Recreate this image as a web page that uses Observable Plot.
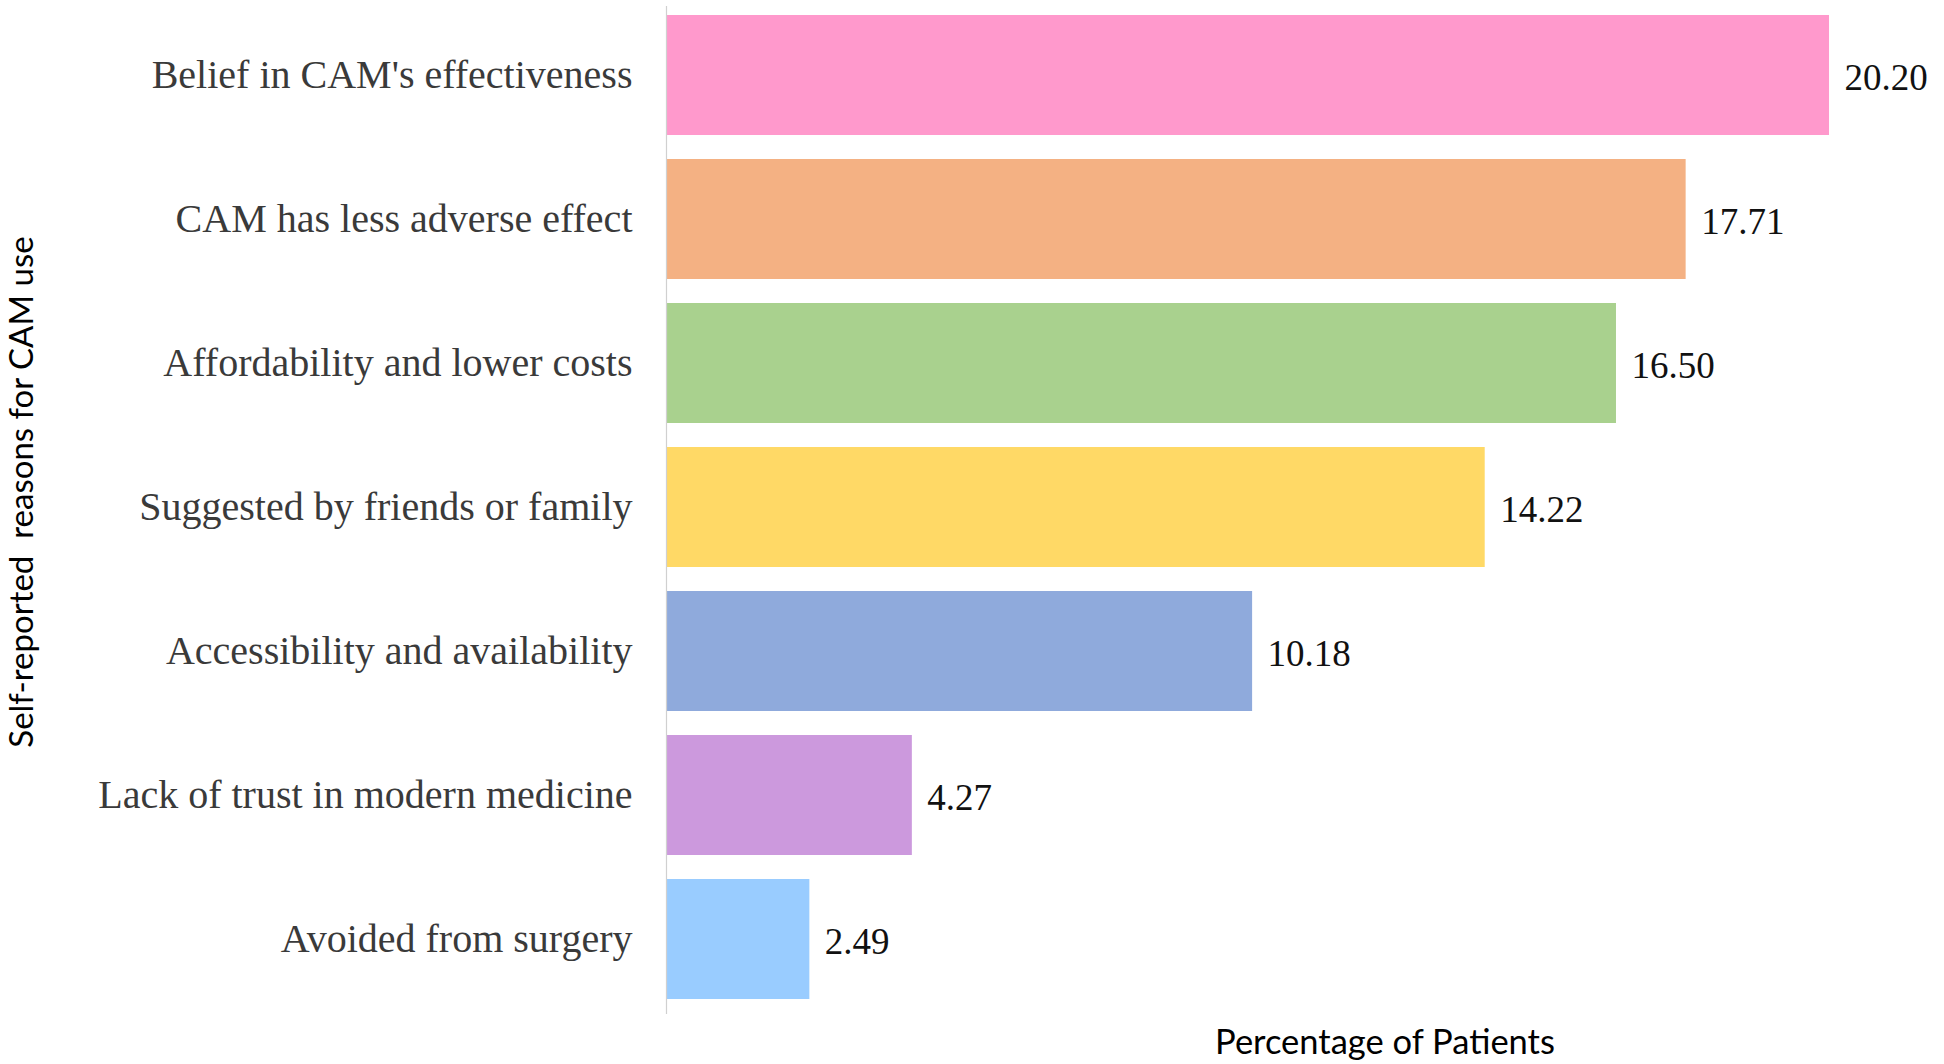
<!DOCTYPE html>
<html>
<head>
<meta charset="utf-8">
<script src="https://cdn.jsdelivr.net/npm/d3@7"></script>
<script src="https://cdn.jsdelivr.net/npm/@observablehq/plot@0.6"></script>
<style>
  html, body { margin: 0; padding: 0; background: #fff; }
  #wrap { position: relative; width: 1944px; height: 1064px; overflow: hidden; }
  #ytitle {
    position: absolute; left: 21px; top: 492px;
    transform: translate(-50%, -50%) rotate(-90deg);
    font-family: Lato, "Open Sans", sans-serif; font-size: 33px; color: #000;
    white-space: pre; line-height: 1.2;
  }
  #xtitle {
    position: absolute; left: 1385px; top: 1041px;
    transform: translate(-50%, -50%);
    font-family: Lato, "Open Sans", sans-serif; font-size: 34.5px; color: #000;
    white-space: pre; line-height: 1;
  }
</style>
</head>
<body>
<div id="wrap">
  <div id="chart"></div>
  <div id="ytitle"></div>
  <div id="xtitle"></div>
</div>
<script>
const categories = [
  "Belief in CAM's effectiveness",
  "CAM has less adverse effect",
  "Affordability and lower costs",
  "Suggested by friends or family",
  "Accessibility and availability",
  "Lack of trust in modern medicine",
  "Avoided from surgery"
];
const values = [20.20, 17.71, 16.50, 14.22, 10.18, 4.27, 2.49];
const colors = ["#FF99CC", "#F4B183", "#A9D18E", "#FFD966", "#8FAADC", "#CC99DD", "#99CCFF"];
const yTitle = "Self-reported  reasons for CAM use";
const xTitle = "Percentage of Patients";

const data = categories.map((c, i) => ({category: c, value: values[i], color: colors[i]}));

const chart = Plot.plot({
  width: 1944,
  height: 1064,
  marginTop: 6,
  marginBottom: 50,
  marginLeft: 666,
  marginRight: 0,
  x: {domain: [0, 20.2], range: [666, 1829], axis: null},
  y: {domain: categories, range: [13, 1000], paddingInner: 0.17, paddingOuter: 0, label: null},
  marks: [
    Plot.barX(data, {y: "category", x: "value", fill: "color"}),
    Plot.ruleX([0], {stroke: "#d0d0d0", strokeWidth: 1.2}),
    Plot.axisY({
      tickSize: 0, tickPadding: 34, fontSize: 40,
      fontFamily: "Liberation Serif, serif", fill: "#3a3a3a", label: null
    }),
    Plot.text(data, {
      y: "category", x: "value", text: d => d.value.toFixed(2),
      textAnchor: "start", dx: 15, dy: 3, fontSize: 37,
      fontFamily: "Liberation Serif, serif", fill: "#111"
    })
  ]
});
document.getElementById("chart").appendChild(chart);
document.getElementById("ytitle").textContent = yTitle;
document.getElementById("xtitle").textContent = xTitle;
</script>
</body>
</html>
